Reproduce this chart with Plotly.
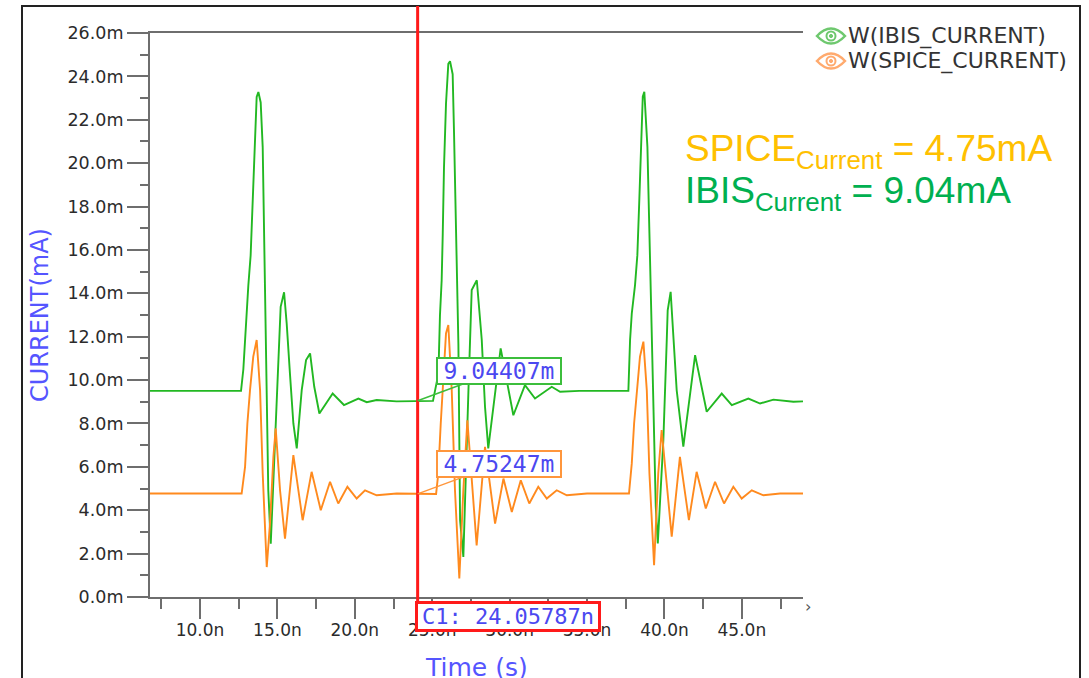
import plotly.graph_objects as go

# ---------------- data (time in ns, current in mA) ----------------
ibis_t = [6.77, 12.65, 12.8, 12.91, 13.02, 13.12, 13.27, 13.4, 13.55, 13.66, 13.77, 13.92, 14.05, 14.15,
          14.26, 14.31, 14.41, 14.57, 14.85, 15.06, 15.21, 15.43, 15.6, 15.81, 16.03, 16.25, 16.57, 16.85,
          17.11, 17.38, 17.71, 18.57, 19.3, 20.23, 20.77, 21.41, 22.7, 25.05, 25.4, 25.5, 25.61, 25.68,
          25.76, 25.89, 26.04, 26.15, 26.32, 26.41, 26.54, 26.69, 26.8, 27.01, 27.34, 27.55, 27.88, 28.2,
          28.41, 28.62, 29.42, 30.24, 30.99, 31.64, 32.72, 33.26, 34.5, 37.67, 37.78, 37.89, 38.1, 38.25,
          38.38, 38.49, 38.6, 38.7, 38.9, 39.03, 39.18, 39.29, 39.44, 39.57, 39.93, 40.15, 40.21, 40.4,
          40.57, 40.79, 41.22, 41.98, 42.73, 43.7, 44.35, 45.42, 46.18, 47.04, 48.33, 48.95]
ibis_ma = [9.5, 9.5, 10.5, 11.8, 13.4, 14.35, 15.74, 18.35, 21.28, 23.05, 23.28, 22.8, 20.74, 16.74,
           12.5, 9.54, 4.92, 2.46, 7.23, 11.08, 13.38, 14.05, 12.6, 10.3, 8.0, 6.85, 9.54, 10.92,
           11.23, 9.69, 8.46, 9.38, 8.85, 9.15, 8.98, 9.08, 9.02, 9.04, 10.3, 12.98, 14.6, 16.74,
           19.8, 22.74, 24.58, 24.7, 24.1, 21.35, 16.74, 11.66, 3.54, 1.85, 9.54, 14.15, 14.6, 11.85,
           8.77, 6.85, 11.46, 8.38, 9.77, 9.15, 9.69, 9.46, 9.5, 9.5, 11.85, 13.07, 14.38, 15.76,
           18.37, 21.29, 23.06, 23.29, 20.75, 16.75, 12.0, 8.0, 4.17, 2.47, 7.24, 11.85, 13.22, 14.07,
           12.3, 9.54, 6.93, 11.15, 8.54, 9.38, 8.85, 9.15, 8.92, 9.1, 9.0, 9.02]

spice_t = [6.77, 12.69, 12.91, 13.06, 13.23, 13.44, 13.66, 13.88, 14.05, 14.2, 14.31, 14.52, 14.74, 14.89,
           15.17, 15.49, 16.03, 16.63, 17.21, 17.8, 18.4, 18.93, 19.52, 20.12, 20.66, 21.41, 22.71,
           25.25, 25.39, 25.55, 25.72, 25.89, 26.04, 26.26, 26.47, 26.75, 27.01, 27.27, 27.87, 28.41,
           29.06, 29.6, 30.14, 30.72, 31.27, 31.85, 32.4, 33.04, 33.69, 35.0, 37.71, 37.89, 38.04,
           38.21, 38.42, 38.64, 38.86, 39.03, 39.18, 39.33, 39.6, 39.82, 40.47, 41.0, 41.58, 42.08,
           42.67, 43.27, 43.85, 44.45, 44.99, 45.64, 46.39, 47.47, 48.95]
spice_ma = [4.77, 4.77, 6.0, 8.0, 9.54, 11.08, 11.85, 9.54, 5.69, 2.77, 1.38, 3.38, 6.46, 7.77,
            4.92, 2.69, 6.54, 3.54, 5.77, 4.0, 5.31, 4.31, 5.08, 4.54, 4.92, 4.69, 4.77,
            4.75, 5.69, 8.0, 10.3, 12.15, 12.54, 9.54, 4.92, 0.85, 4.92, 8.15, 2.38, 6.92,
            3.38, 5.46, 3.92, 5.38, 4.31, 5.08, 4.54, 4.92, 4.69, 4.77, 4.77, 6.16, 8.0,
            9.54, 11.08, 11.77, 9.54, 5.7, 3.4, 1.47, 5.7, 7.7, 2.78, 6.46, 3.54, 5.77,
            4.08, 5.31, 4.31, 5.08, 4.54, 4.92, 4.69, 4.77, 4.77]

assert len(ibis_t) == len(ibis_ma)
assert len(spice_t) == len(spice_ma)

cursor_t = 24.05787
cursor_ibis = 9.04407
cursor_spice = 4.75247

y_ticks = [0, 2, 4, 6, 8, 10, 12, 14, 16, 18, 20, 22, 24, 26]
y_minor = [1, 3, 5, 7, 9, 11, 13, 15, 17, 19, 21, 23, 25]
x_ticks = [10, 15, 20, 25, 30, 35, 40, 45]
x_minor = [7.5, 12.5, 17.5, 22.5, 27.5, 32.5, 37.5, 42.5, 47.5]
x_range = [6.77, 48.95]
y_range = [0, 26]

# ---------------- layout geometry ----------------
W, H = 1089, 678
L, R, T, B = 150, 286, 33, 81
PW, PH = W - L - R, H - T - B


def X(px):
    return (px - L) / PW


def Y(py):
    return (H - B - py) / PH


GREEN = "rgb(34,184,34)"
ORANGE = "rgb(255,138,30)"
AXIS = "#6e6e6e"
TXT = "#2b2b2b"
BLUE = "#4b48f0"

fig = go.Figure()
fig.add_trace(go.Scatter(x=ibis_t, y=ibis_ma, mode="lines", name="W(IBIS_CURRENT)",
                         line=dict(color=GREEN, width=1.9), showlegend=False))
fig.add_trace(go.Scatter(x=spice_t, y=spice_ma, mode="lines", name="W(SPICE_CURRENT)",
                         line=dict(color=ORANGE, width=1.9), showlegend=False))

fig.update_layout(
    width=W, height=H,
    margin=dict(l=L, r=R, t=T, b=B, pad=0),
    paper_bgcolor="white", plot_bgcolor="white",
    font=dict(family="DejaVu Sans", color=TXT, size=16),
)

fig.update_xaxes(
    range=x_range, showgrid=False, zeroline=False,
    showline=True, linecolor=AXIS, linewidth=2, mirror=True,
    tickmode="array", tickvals=x_ticks, ticktext=[f"{v:.1f}n" for v in x_ticks],
    ticks="outside", ticklen=20, tickwidth=2, tickcolor=AXIS, ticklabelstandoff=-3,
    tickfont=dict(family="DejaVu Sans", size=17, color=TXT),
    minor=dict(tickmode="array", tickvals=x_minor, ticks="outside", ticklen=10,
               tickwidth=2, tickcolor=AXIS),
)
fig.update_yaxes(
    range=y_range, showgrid=False, zeroline=False,
    showline=True, linecolor=AXIS, linewidth=2, mirror=False,
    tickmode="array", tickvals=y_ticks, ticktext=[f"{v:.1f}m" for v in y_ticks],
    ticks="outside", ticklen=21, tickwidth=2, tickcolor=AXIS,
    tickfont=dict(family="DejaVu Sans", size=17.5, color=TXT),
    minor=dict(tickmode="array", tickvals=y_minor, ticks="outside", ticklen=8,
               tickwidth=2, tickcolor=AXIS),
)

shapes = []
# outer frame
shapes.append(dict(type="rect", xref="paper", yref="paper", x0=X(22), x1=X(1080), y0=Y(700), y1=Y(6),
                   line=dict(color="#222222", width=2), layer="above"))
# cursor line
shapes.append(dict(type="line", xref="x", yref="paper", x0=cursor_t, x1=cursor_t, y0=Y(602), y1=Y(6),
                   line=dict(color="#ff1a1a", width=3), layer="above"))


def eye(cx, cy, color):
    x0, x1 = X(cx - 14), X(cx + 14)
    yt, yb, ym = Y(cy - 15), Y(cy + 15), Y(cy)
    xc = X(cx)
    shapes.append(dict(type="path", xref="paper", yref="paper",
                       path=f"M {x0},{ym} Q {xc},{yt} {x1},{ym} Q {xc},{yb} {x0},{ym} Z",
                       line=dict(color=color, width=2.5), fillcolor="rgba(0,0,0,0)", layer="above"))
    shapes.append(dict(type="circle", xref="paper", yref="paper",
                       x0=X(cx - 4.5), x1=X(cx + 4.5), y0=Y(cy + 4.5), y1=Y(cy - 4.5),
                       line=dict(color=color, width=2), fillcolor="white", layer="above"))
    shapes.append(dict(type="circle", xref="paper", yref="paper",
                       x0=X(cx - 1.6), x1=X(cx + 1.6), y0=Y(cy + 1.6), y1=Y(cy - 1.6),
                       line=dict(color=color, width=1), fillcolor=color, layer="above"))


eye(831, 36, "rgb(110,200,110)")
eye(831, 61, "rgb(255,170,110)")
fig.update_layout(shapes=shapes)

ann = []
# legend texts
ann.append(dict(xref="paper", yref="paper", x=X(846), y=Y(36), xanchor="left", yanchor="middle",
                text="W(IBIS_CURRENT)", showarrow=False,
                font=dict(family="DejaVu Sans", size=22, color="#333333")))
ann.append(dict(xref="paper", yref="paper", x=X(846), y=Y(61), xanchor="left", yanchor="middle",
                text="W(SPICE_CURRENT)", showarrow=False,
                font=dict(family="DejaVu Sans", size=22, color="#333333")))
# axis titles
ann.append(dict(xref="paper", yref="paper", x=X(40), y=0.5, xanchor="center", yanchor="middle",
                text="CURRENT(mA)", textangle=-90, showarrow=False,
                font=dict(family="DejaVu Sans", size=24, color="#5555ff")))
ann.append(dict(xref="paper", yref="paper", x=0.5, y=Y(667), xanchor="center", yanchor="middle",
                text="Time (s)", showarrow=False,
                font=dict(family="DejaVu Sans", size=25, color="#5555ff")))
# summary texts
ann.append(dict(xref="paper", yref="paper", x=X(683), y=Y(151), xanchor="left", yanchor="middle",
                text="SPICE<sub>Current</sub> = 4.75mA", showarrow=False,
                font=dict(family="Liberation Sans", size=37, color="#FFC000")))
ann.append(dict(xref="paper", yref="paper", x=X(683), y=Y(193), xanchor="left", yanchor="middle",
                text="IBIS<sub>Current</sub> = 9.04mA", showarrow=False,
                font=dict(family="Liberation Sans", size=37, color="#00B050")))
# cursor value labels
ann.append(dict(xref="x", yref="y", x=cursor_t, y=cursor_ibis, ax=81, ay=-30,
                text=f"{cursor_ibis:.5f}m", showarrow=True, arrowhead=0, arrowwidth=1.5,
                arrowcolor="rgb(60,190,60)", bgcolor="white", bordercolor="rgb(60,190,60)",
                borderwidth=2, borderpad=1, width=120, height=22,
                font=dict(family="DejaVu Sans Mono", size=23, color=BLUE)))
ann.append(dict(xref="x", yref="y", x=cursor_t, y=cursor_spice, ax=81, ay=-30,
                text=f"{cursor_spice:.5f}m", showarrow=True, arrowhead=0, arrowwidth=1.5,
                arrowcolor="rgb(255,150,60)", bgcolor="white", bordercolor="rgb(255,150,60)",
                borderwidth=2, borderpad=1, width=120, height=22,
                font=dict(family="DejaVu Sans Mono", size=23, color=BLUE)))
# cursor time label
ann.append(dict(xref="x", yref="paper", x=cursor_t, y=Y(616), xanchor="left", yanchor="middle",
                xshift=-3, text=f"C1: {cursor_t:.5f}n", showarrow=False,
                bgcolor="white", bordercolor="#ff1a1a", borderwidth=3, borderpad=1,
                width=178, height=23,
                font=dict(family="DejaVu Sans Mono", size=22, color=BLUE)))
# scroll chevron at the end of the time axis
ann.append(dict(xref="paper", yref="paper", x=X(808), y=Y(606), xanchor="center", yanchor="middle",
                text="›", showarrow=False, font=dict(family="DejaVu Sans", size=16, color="#555555")))
fig.update_layout(annotations=ann)

fig.write_html("out.html", config={"displayModeBar": False},
               post_script="document.body.style.margin='0';")
